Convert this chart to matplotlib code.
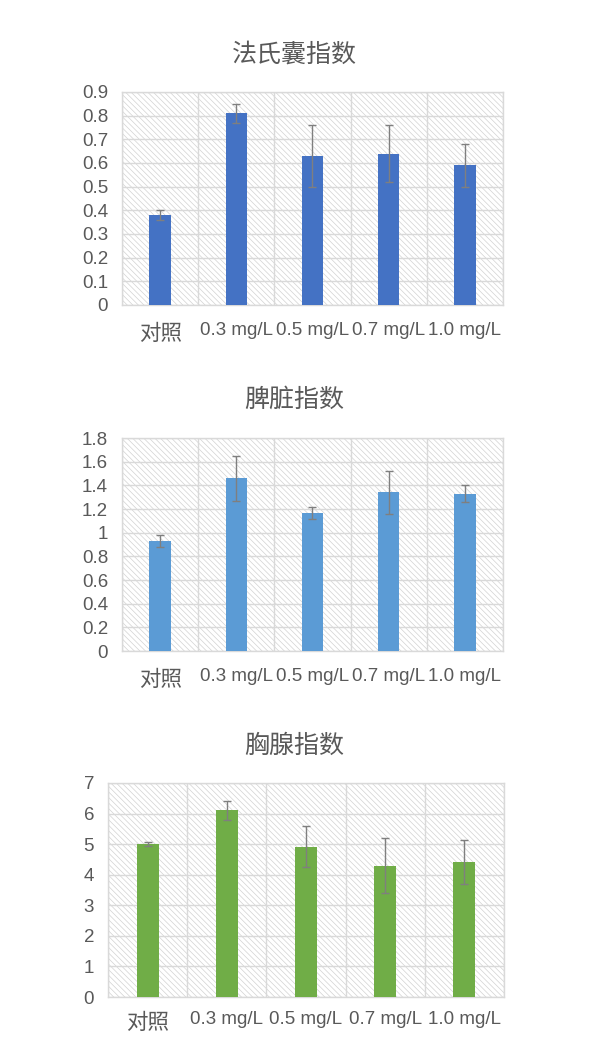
import matplotlib
matplotlib.use('Agg')
import matplotlib.pyplot as plt
from matplotlib.patches import Rectangle
import numpy as np

# data
groups = ['对照', '0.3 mg/L', '0.5 mg/L', '0.7 mg/L', '1.0 mg/L']

bursa_mean = [0.38, 0.81, 0.63, 0.64, 0.59]
bursa_err = [0.02, 0.04, 0.13, 0.12, 0.09]

spleen_mean = [0.93, 1.46, 1.17, 1.34, 1.33]
spleen_err = [0.05, 0.19, 0.05, 0.18, 0.07]

thymus_mean = [5.0, 6.1, 4.92, 4.3, 4.4]
thymus_err = [0.07, 0.3, 0.67, 0.9, 0.72]

plt.rcParams['font.family'] = ['Liberation Sans', 'Noto Sans CJK SC']
plt.rcParams['hatch.linewidth'] = 0.5

text_gray = '#595959'
grid_gray = '#d9d9d9'

fig = plt.figure(figsize=(5.89, 10.43), dpi=100)


def draw_panel(rect, title, title_y, means, errs, color, ymax, ystep, xpad):
    ax = fig.add_axes(rect)
    x = np.arange(len(groups))

    # hatched background of the plot area
    ax.add_patch(Rectangle((0, 0), 1, 1, transform=ax.transAxes,
                           facecolor='white', edgecolor='#d2d2d2',
                           linewidth=0, hatch='\\' * 6, zorder=0))

    ax.bar(x, means, width=0.28, color=color, zorder=3)
    ax.errorbar(x, means, yerr=errs, fmt='none', ecolor='#7f7f7f',
                elinewidth=1.0, capsize=3, capthick=1.0, zorder=4)

    ax.set_xlim(-0.5, len(groups) - 0.5)
    ax.set_ylim(0, ymax)
    yt = np.arange(0, ymax + ystep / 2, ystep)
    ax.set_yticks(yt)
    ax.set_yticklabels(['%g' % round(v, 2) for v in yt])

    # vertical grid at category boundaries
    ax.set_xticks(np.arange(-0.5, len(groups)), minor=True)
    ax.grid(True, which='minor', axis='x', color=grid_gray, linewidth=1, zorder=1)
    ax.grid(True, which='major', axis='y', color=grid_gray, linewidth=1, zorder=1)
    ax.set_axisbelow(True)

    ax.set_xticks(x)
    ax.set_xticklabels(groups)
    ax.tick_params(axis='both', which='both', length=0, labelsize=13.5,
                   labelcolor=text_gray)
    ax.tick_params(axis='x', pad=xpad)
    ax.tick_params(axis='y', pad=10)
    # the first (Chinese) label is a bit bigger and lower in the reference
    first = ax.get_xticklabels()[0]
    first.set_fontsize(15.5)
    first.set_y(-0.012)

    for s in ax.spines.values():
        s.set_color(grid_gray)
        s.set_linewidth(1)

    fig.text(0.5, title_y, title, ha='center', va='center',
             fontsize=18, color=text_gray)
    return ax


draw_panel([0.2071, 0.7076, 0.6469, 0.2042], '法氏囊指数', 1 - 55 / 1043,
           bursa_mean, bursa_err, '#4472c4', 0.9, 0.1, 12)
draw_panel([0.2071, 0.3758, 0.6469, 0.2042], '脾脏指数', 1 - 400 / 1043,
           spleen_mean, spleen_err, '#5b9bd5', 1.8, 0.2, 12)
draw_panel([0.1834, 0.0441, 0.6723, 0.2052], '胸腺指数', 1 - 746 / 1043,
           thymus_mean, thymus_err, '#70ad47', 7, 1, 10)

fig.savefig('out.png', dpi=100, facecolor='white')
